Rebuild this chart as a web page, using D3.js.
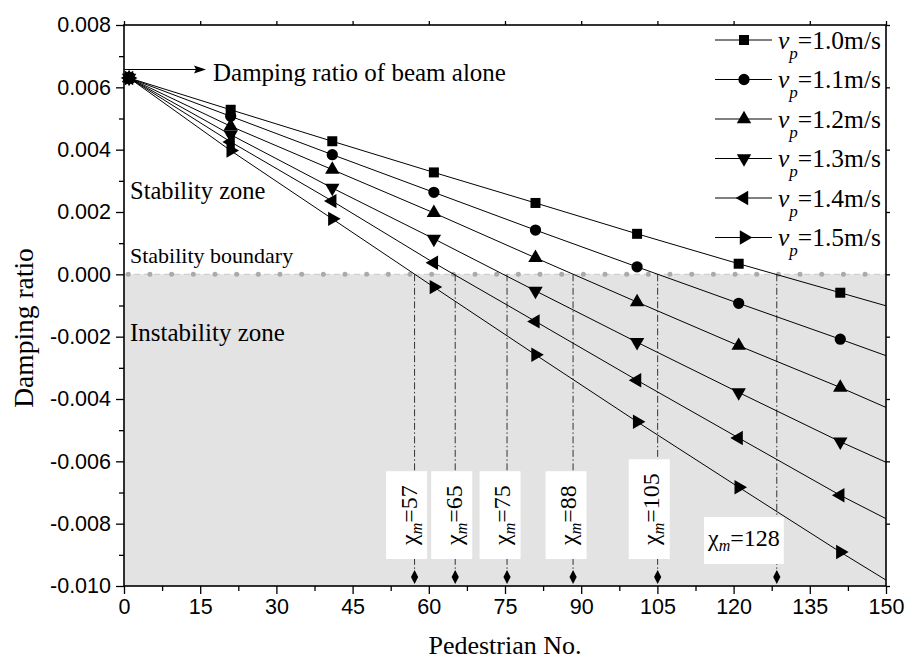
<!DOCTYPE html>
<html><head><meta charset="utf-8">
<script src="https://cdn.jsdelivr.net/npm/d3@7"></script>
<style>body{margin:0;background:#fff} svg{display:block}</style>
</head><body><svg id="c" width="905" height="659"></svg>
<script>
// ---------- data ----------
const pedestrianNo = [1, 21, 41, 61, 81, 101, 121, 141];
const edgeNo = 150;
const speedLabels = ["1.0", "1.1", "1.2", "1.3", "1.4", "1.5"];
const ratio_v10 = [0.0063, 0.00528, 0.00427, 0.00327, 0.00229, 0.00130, 0.00034, -0.00059];
const ratio_v11 = [0.0063, 0.00507, 0.00384, 0.00263, 0.00142, 0.00024, -0.00093, -0.00208];
const ratio_v12 = [0.0063, 0.00475, 0.00336, 0.00197, 0.00053, -0.00089, -0.00229, -0.00363];
const ratio_v13 = [0.0063, 0.00448, 0.00277, 0.00114, -0.00053, -0.00218, -0.00379, -0.00537];
const ratio_v14 = [0.0063, 0.00425, 0.00235, 0.00037, -0.00151, -0.00340, -0.00525, -0.00709];
const ratio_v15 = [0.0063, 0.00397, 0.00178, -0.00041, -0.00258, -0.00473, -0.00683, -0.00891];
const ratioAtEdge = [-0.00101, -0.00261, -0.00427, -0.00603, -0.00784, -0.00981];
const criticalNo = [57.2, 65.2, 75.4, 88.4, 105.05, 128.5];
const criticalLabels = ["57", "65", "75", "88", "105", "128"];
const xTicks = [0, 15, 30, 45, 60, 75, 90, 105, 120, 135, 150];
const xMinorTicks = [7.5, 22.5, 37.5, 52.5, 67.5, 82.5, 97.5, 112.5, 127.5, 142.5];
const yTicks = [-0.010, -0.008, -0.006, -0.004, -0.002, 0.000, 0.002, 0.004, 0.006, 0.008];
const yMinorTicks = [-0.009, -0.007, -0.005, -0.003, -0.001, 0.001, 0.003, 0.005, 0.007];
const seriesValues = [ratio_v10, ratio_v11, ratio_v12, ratio_v13, ratio_v14, ratio_v15];

// ---------- layout ----------
const SERIF = '"Liberation Serif","Times New Roman",serif';
const SANS = '"Liberation Sans",Arial,sans-serif';
const svg = d3.select("#c");
const x = d3.scaleLinear().domain([0, 150]).range([124, 886]);
const y = d3.scaleLinear().domain([-0.010, 0.008]).range([586, 25]);

// instability zone
svg.append("rect").attr("x", x(0)).attr("y", y(0))
  .attr("width", x(150) - x(0)).attr("height", y(-0.010) - y(0))
  .attr("fill", "#e3e3e3");

// stability boundary
svg.append("line").attr("x1", x(0)).attr("x2", x(150)).attr("y1", y(0)).attr("y2", y(0))
  .attr("stroke", "#cfcfcf").attr("stroke-width", 1.2).attr("stroke-dasharray", "6,4");
svg.append("line").attr("x1", x(0) + 4.3).attr("x2", x(150)).attr("y1", y(0)).attr("y2", y(0))
  .attr("stroke", "#aaaaaa").attr("stroke-width", 5).attr("stroke-linecap", "round")
  .attr("stroke-dasharray", "0,21.67");

// critical dash-dot lines
const diamondY = 577;
criticalNo.forEach(c => {
  svg.append("line").attr("x1", x(c)).attr("x2", x(c)).attr("y1", y(0)).attr("y2", diamondY)
    .attr("stroke", "#333").attr("stroke-width", 1).attr("stroke-dasharray", "7,2.5,1.5,2.5");
});

// label boxes
const boxShift = [-8, -3.5, -7, -7, -8.4];
criticalNo.forEach((c, i) => {
  const lx = x(c);
  const g = svg.append("g");
  const rect = g.append("rect").attr("fill", "#fff");
  const t = g.append("text").attr("font-family", SERIF).attr("font-size", 24);
  t.append("tspan").text("\u03c7");
  t.append("tspan").attr("font-size", 16).attr("font-style", "italic").attr("dy", 5).text("m");
  t.append("tspan").attr("dy", -5).text("=" + criticalLabels[i]);
  const L = t.node().getComputedTextLength();
  if (i < 5) {
    t.attr("text-anchor", "middle").attr("y", 10);
    const h = L + 28, w = 41;
    const cx = lx + boxShift[i], cy = 559 - h / 2;
    g.attr("transform", `translate(${cx},${cy}) rotate(-90)`);
    rect.attr("x", -h / 2).attr("y", -w / 2).attr("width", h).attr("height", w);
  } else {
    const right = lx + 7, left = right - L - 8;
    t.attr("x", left + 4).attr("y", 546);
    rect.attr("x", left).attr("y", 517).attr("width", right - left).attr("height", 47);
  }
});

// diamonds
criticalNo.forEach(c => {
  svg.append("path").attr("d", "M0,-7L3.6,0L0,7L-3.6,0Z")
    .attr("transform", `translate(${x(c)},${diamondY})`).attr("fill", "#000");
});

// series
const shapes = [
  { t: d3.symbolSquare, r: 0, s: 100 },
  { t: d3.symbolCircle, r: 0, s: 100 },
  { t: d3.symbolTriangle, r: 0, s: 90 },
  { t: d3.symbolTriangle, r: 180, s: 90 },
  { t: d3.symbolTriangle, r: -90, s: 90 },
  { t: d3.symbolTriangle, r: 90, s: 90 }
];
const line = d3.line().x(d => x(d[0])).y(d => y(d[1]));
seriesValues.forEach((vals, i) => {
  const pts = pedestrianNo.map((p, j) => [p, vals[j]]).concat([[edgeNo, ratioAtEdge[i]]]);
  svg.append("path").attr("d", line(pts)).attr("fill", "none").attr("stroke", "#000").attr("stroke-width", 1);
});
seriesValues.forEach((vals, i) => {
  const sh = shapes[i];
  svg.append("g").selectAll("path").data(pedestrianNo.map((p, j) => [p, vals[j]])).join("path")
    .attr("d", d3.symbol().type(sh.t).size(sh.s)())
    .attr("transform", d => `translate(${x(d[0])},${y(d[1])}) rotate(${sh.r})`)
    .attr("fill", "#000");
});

// axes
const fmt = d => (Math.abs(d) < 1e-12 ? 0 : d).toFixed(3);
const bottom = svg.append("g").attr("transform", `translate(0,${y(-0.010)})`)
  .call(d3.axisBottom(x).tickValues(xTicks).tickSize(8).tickPadding(5).tickFormat(d3.format("d")));
svg.append("g").attr("transform", `translate(0,${y(-0.010)})`)
  .call(d3.axisBottom(x).tickValues(xMinorTicks).tickSize(5).tickFormat(""));
const left = svg.append("g").attr("transform", `translate(${x(0)},0)`)
  .call(d3.axisLeft(y).tickValues(yTicks).tickSize(8).tickPadding(5).tickFormat(fmt));
svg.append("g").attr("transform", `translate(${x(0)},0)`)
  .call(d3.axisLeft(y).tickValues(yMinorTicks).tickSize(5).tickFormat(""));
svg.append("g").attr("transform", `translate(0,${y(0.008)})`)
  .call(d3.axisTop(x).tickValues(xTicks).tickSize(4).tickFormat(""));
svg.append("g").attr("transform", `translate(${x(150)},0)`)
  .call(d3.axisRight(y).tickValues(yTicks).tickSize(4).tickFormat(""));
svg.selectAll(".domain").remove();
svg.selectAll(".tick line").attr("stroke", "#000").attr("stroke-width", 1.3);
bottom.selectAll("text").attr("font-family", SANS).attr("font-size", 21.5).attr("fill", "#000");
left.selectAll("text").attr("font-family", SANS).attr("font-size", 21.5).attr("fill", "#000");

// frame
svg.append("rect").attr("x", x(0)).attr("y", y(0.008)).attr("width", x(150) - x(0))
  .attr("height", y(-0.010) - y(0.008)).attr("fill", "none").attr("stroke", "#000").attr("stroke-width", 1.6);

// axis titles
svg.append("text").attr("x", (x(0) + x(150)) / 2).attr("y", 654).attr("text-anchor", "middle")
  .attr("font-family", SERIF).attr("font-size", 26).text("Pedestrian No.");
svg.append("text").attr("transform", "translate(33,328) rotate(-90)").attr("text-anchor", "middle")
  .attr("font-family", SERIF).attr("font-size", 27.5).text("Damping ratio");

// annotations
svg.append("line").attr("x1", x(0)).attr("x2", 198).attr("y1", 69.5).attr("y2", 69.5)
  .attr("stroke", "#000").attr("stroke-width", 1.2);
svg.append("path").attr("d", "M206,69.5L194,65.5L196,69.5L194,73.5Z").attr("fill", "#000");
svg.append("text").attr("x", 213).attr("y", 81).attr("font-family", SERIF).attr("font-size", 25)
  .text("Damping ratio of beam alone");
svg.append("text").attr("x", 130).attr("y", 199).attr("font-family", SERIF).attr("font-size", 24.5)
  .text("Stability zone");
svg.append("text").attr("x", 130).attr("y", 263).attr("font-family", SERIF).attr("font-size", 22)
  .text("Stability boundary");
svg.append("text").attr("x", 130).attr("y", 341).attr("font-family", SERIF).attr("font-size", 25)
  .text("Instability zone");

// legend
speedLabels.forEach((lab, i) => {
  const ly = 40 + i * 39.5;
  const g = svg.append("g");
  g.append("line").attr("x1", 715).attr("x2", 772).attr("y1", ly).attr("y2", ly)
    .attr("stroke", "#000").attr("stroke-width", 1);
  const sh = shapes[i];
  g.append("path").attr("d", d3.symbol().type(sh.t).size(sh.s)())
    .attr("transform", `translate(744,${ly}) rotate(${sh.r})`).attr("fill", "#000");
  const t = g.append("text").attr("x", 778).attr("y", ly + 8.5).attr("font-family", SERIF).attr("font-size", 25.5);
  t.append("tspan").attr("font-style", "italic").text("v");
  t.append("tspan").attr("font-style", "italic").attr("font-size", 17).attr("dy", 10).text("p");
  t.append("tspan").attr("dy", -10).text("=" + lab + "m/s");
});
</script>
</body></html>
